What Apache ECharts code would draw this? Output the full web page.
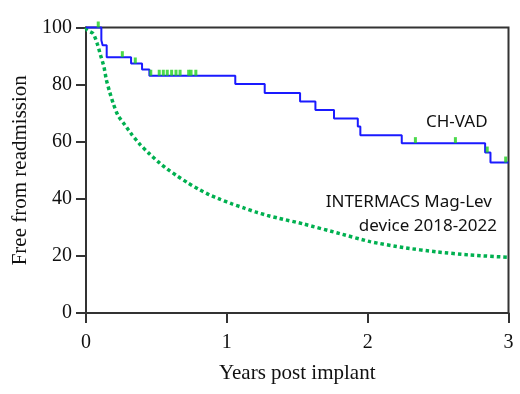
<!DOCTYPE html>
<html>
<head>
<meta charset="utf-8">
<script src="https://cdn.jsdelivr.net/npm/echarts@6/dist/echarts.min.js"></script>
<style>
html,body{margin:0;padding:0;background:#fff;}
#chart{width:520px;height:394px;}
</style>
</head>
<body>
<div id="chart"></div>
<script>
// CH-VAD Kaplan-Meier step curve (years, % free from readmission)
var kmTimes = [0, 0.109, 0.118, 0.147, 0.32, 0.398, 0.45, 1.06, 1.269, 1.52, 1.629, 1.761, 1.93, 1.948, 2.242, 2.834, 2.872, 3.0];
var kmValues = [100, 95.5, 93.8, 89.6, 87.4, 85.3, 83.1, 80.2, 77.1, 74.1, 71.1, 68.1, 65.3, 62.3, 59.5, 56.2, 52.7, 52.7];
// censored observations
var censorTimes = [0.087, 0.258, 0.35, 0.46, 0.52, 0.549, 0.577, 0.608, 0.639, 0.668, 0.729, 0.746, 0.78, 2.339, 2.623, 2.849, 2.98];
var censorValues = [100, 89.6, 87.4, 83.1, 83.1, 83.1, 83.1, 83.1, 83.1, 83.1, 83.1, 83.1, 83.1, 59.5, 59.5, 56.2, 52.7];
// INTERMACS Mag-Lev device 2018-2022
var imTimes = [0, 0.009, 0.052, 0.08, 0.104, 0.128, 0.144, 0.168, 0.194, 0.227, 0.277, 0.327, 0.384, 0.445, 0.509, 0.577, 0.648, 0.722, 0.798, 0.876, 0.954, 1.037, 1.12, 1.202, 1.286, 1.368, 1.543, 1.78, 2.017, 2.254, 2.49, 2.727, 3.0];
var imValues = [100, 99, 97.8, 94.3, 90.2, 86.1, 81.8, 77.4, 73.3, 69.2, 65.8, 62.4, 59, 56, 53.1, 50.4, 48, 45.6, 43.4, 41.4, 39.8, 38.2, 36.8, 35.4, 34.2, 33.2, 31.2, 28.1, 25, 22.9, 21.4, 20.3, 19.5];
// axes
var xTicks = [0, 1, 2, 3];
var yTicks = [0, 20, 40, 60, 80, 100];
var xAxisTitle = 'Years post implant';
var yAxisTitle = 'Free from readmission';
var labelCH = 'CH-VAD';
var labelIM1 = 'INTERMACS Mag-Lev';
var labelIM2 = 'device 2018-2022';

function zip(a, b) { return a.map(function (v, i) { return [v, b[i]]; }); }

var chart = echarts.init(document.getElementById('chart'), null, {renderer: 'canvas'});
var axisColor = '#333';
var serif = '"Liberation Serif", "Times New Roman", serif';
var sans = '"Noto Sans", "Open Sans", sans-serif';

chart.setOption({
  animation: false,
  backgroundColor: '#fff',
  grid: {left: 86, right: 11.5, top: 27.5, bottom: 81, show: true, borderColor: axisColor, borderWidth: 2, backgroundColor: 'transparent'},
  xAxis: {
    type: 'value', min: xTicks[0], max: xTicks[xTicks.length - 1], interval: 1,
    name: xAxisTitle, nameLocation: 'middle', nameGap: 50,
    nameTextStyle: {fontFamily: serif, fontSize: 21, color: '#111'},
    axisLine: {show: true, onZero: false, lineStyle: {color: axisColor, width: 2}},
    axisTick: {show: true, inside: false, length: 10, lineStyle: {color: axisColor, width: 2}},
    axisLabel: {fontFamily: serif, fontSize: 20, color: '#111', margin: 20},
    splitLine: {show: false}
  },
  yAxis: {
    type: 'value', min: yTicks[0], max: yTicks[yTicks.length - 1], interval: 20,
    name: yAxisTitle, nameLocation: 'middle', nameGap: 55,
    nameTextStyle: {fontFamily: serif, fontSize: 21, color: '#111'},
    axisLine: {show: true, onZero: false, lineStyle: {color: axisColor, width: 2}},
    axisTick: {show: true, inside: false, length: 10, lineStyle: {color: axisColor, width: 2}},
    axisLabel: {fontFamily: serif, fontSize: 20, color: '#111', margin: 14},
    splitLine: {show: false}
  },
  series: [
    {
      type: 'line', data: zip(imTimes, imValues), showSymbol: false, smooth: 0.2,
      lineStyle: {color: '#00b050', width: 3.5, type: [3.5, 3], cap: 'butt'},
      z: 2
    },
    {
      type: 'line', data: zip(kmTimes, kmValues), step: 'end', showSymbol: false,
      lineStyle: {color: '#1a1aff', width: 2},
      z: 3, clip: false
    },
    {
      type: 'scatter', data: zip(censorTimes, censorValues), symbol: 'rect', symbolSize: [3, 6], symbolOffset: [0, -3],
      itemStyle: {color: '#1fd11f'}, z: 4, clip: false
    }
  ],
  graphic: [
    {type: 'text', left: 426, top: 114, style: {text: labelCH, font: '17px ' + sans, fill: '#111'}},
    {type: 'text', right: 28, top: 194, style: {text: labelIM1, font: '17px ' + sans, fill: '#111', textAlign: 'right'}},
    {type: 'text', right: 23, top: 218, style: {text: labelIM2, font: '17px ' + sans, fill: '#111', textAlign: 'right'}}
  ]
});
</script>
</body>
</html>
